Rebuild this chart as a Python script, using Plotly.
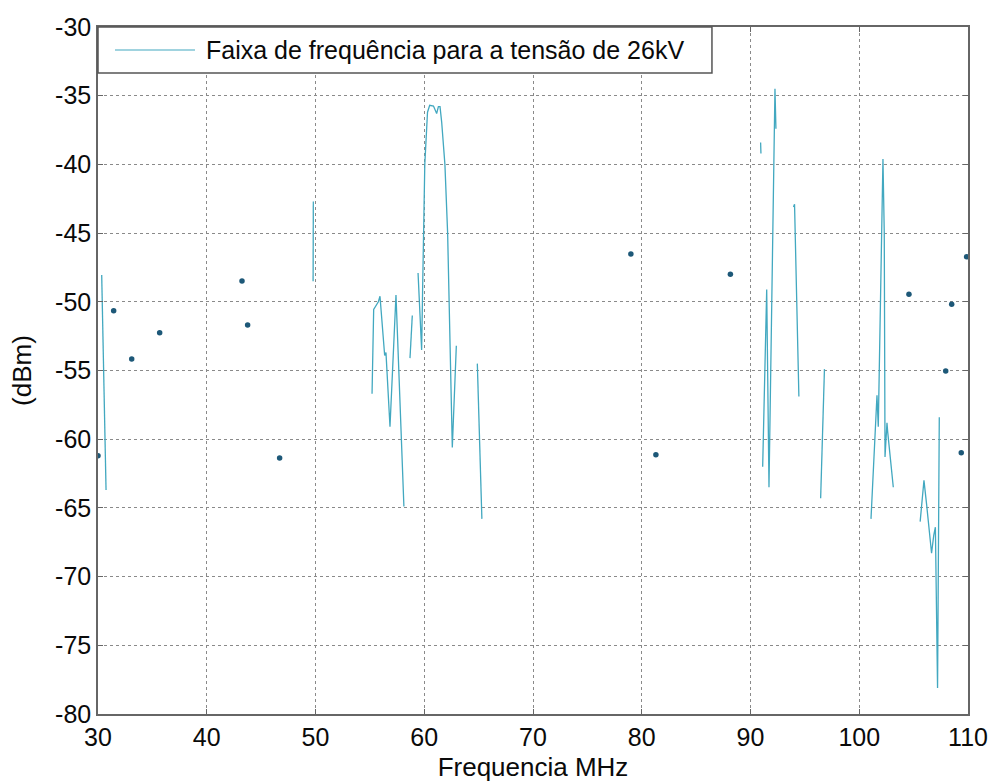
import plotly.graph_objects as go

# ---- data ----
# spectrum trace: segments separated by None (gaps)
freq_line = [
    30.34, 30.74, None,
    49.78, 49.80, None,
    55.20, 55.35, 55.78, 55.93, 56.36, 56.48, 56.85, 57.40, 58.13, None,
    58.69, 58.90, None,
    59.43, 59.76, 59.85, 59.95, 60.05, 60.30, 60.50, 60.85, 61.00, 61.14, 61.30, 61.45, 61.60, 61.90, 62.15, 62.58, 62.95, None,
    64.88, 65.30, None,
    90.93, 90.96, None,
    91.12, 91.49, 91.70, 92.25, 92.34, None,
    93.95, 94.05, 94.45, None,
    96.45, 96.80, None,
    101.08, 101.63, 101.75, 101.85, 102.18, 102.30, 102.37, 102.55, 102.62, 103.13, None,
    105.60, 105.95, 106.20, 106.45, 106.65, 106.85, 107.00, 107.20, 107.36,
]
dbm_line = [
    -48.05, -63.70, None,
    -48.50, -42.70, None,
    -56.70, -50.55, -50.00, -49.60, -53.90, -53.70, -59.10, -49.50, -64.90, None,
    -54.10, -51.00, None,
    -47.90, -53.50, -49.10, -45.00, -40.00, -36.20, -35.70, -35.75, -36.00, -36.30, -35.80, -35.80, -36.90, -40.00, -45.00, -60.60, -53.20, None,
    -54.50, -65.80, None,
    -38.40, -39.20, None,
    -62.00, -49.10, -63.50, -34.50, -37.40, None,
    -43.10, -42.90, -56.90, None,
    -64.30, -54.90, None,
    -65.80, -56.80, -59.10, -55.00, -39.60, -45.00, -61.30, -58.80, -59.50, -63.50, None,
    -66.00, -63.00, -64.80, -66.80, -68.30, -67.00, -66.40, -78.10, -58.40,
]

# isolated single samples (drawn as dots)
freq_pts = [30.0, 31.44, 33.1, 35.67, 43.24, 43.76, 46.7, 79.0, 81.3, 88.15,
            104.57, 107.95, 108.5, 109.38, 109.87]
dbm_pts = [-61.2, -50.65, -54.16, -52.25, -48.49, -51.69, -61.37, -46.52, -61.13, -48.0,
           -49.45, -55.04, -50.18, -60.98, -46.72]

x_ticks = [30, 40, 50, 60, 70, 80, 90, 100, 110]
y_ticks = [-30, -35, -40, -45, -50, -55, -60, -65, -70, -75, -80]

legend_label = "Faixa de frequência para a tensão de 26kV"
x_title = "Frequencia MHz"
y_title = "(dBm)"

LINE_COLOR = "#42a8c0"
DOT_COLOR = "#1d5878"
TEXT_COLOR = "#0a0a0a"
FONT = "Liberation Sans, Arial, sans-serif"

fig = go.Figure()
fig.add_trace(go.Scatter(
    x=freq_line, y=dbm_line, mode="lines", connectgaps=False,
    line=dict(color=LINE_COLOR, width=1.3), name=legend_label, showlegend=False,
))
fig.add_trace(go.Scatter(
    x=freq_pts, y=dbm_pts, mode="markers",
    marker=dict(color=DOT_COLOR, size=5.5), showlegend=False, name="",
))

axis_common = dict(
    showgrid=True, gridcolor="#8a8a8a", gridwidth=1, griddash="3px,3px",
    showline=True, linecolor="#666666", linewidth=1.5, mirror="ticks",
    ticks="inside", ticklen=5, tickcolor="#666666", automargin=False,
    zeroline=False, tickfont=dict(family=FONT, size=25, color=TEXT_COLOR),
)

fig.update_xaxes(range=[30, 110], tickvals=x_ticks, ticktext=[str(v) for v in x_ticks],
                 title=dict(text=x_title, font=dict(family=FONT, size=26, color=TEXT_COLOR), standoff=8),
                 **axis_common)
fig.update_yaxes(range=[-80, -30], tickvals=y_ticks, ticktext=[str(v) for v in y_ticks],
                 title=dict(text=y_title, font=dict(family=FONT, size=26, color=TEXT_COLOR), standoff=16),
                 **axis_common)

# legend box drawn in the upper-left corner of the axes
fig.add_shape(type="rect", xref="paper", yref="paper", x0=0, x1=0.7057, y0=0.933, y1=1.0,
              fillcolor="white", line=dict(color="#555555", width=1.5), layer="above")
fig.add_shape(type="line", xref="paper", yref="paper", x0=0.0195, x1=0.1115, y0=0.9665, y1=0.9665,
              line=dict(color=LINE_COLOR, width=1.2), layer="above")
fig.add_annotation(xref="paper", yref="paper", x=0.1218, y=0.9665, xanchor="left", yanchor="middle",
                   text=legend_label, showarrow=False, font=dict(family=FONT, size=25, color=TEXT_COLOR))

fig.update_layout(
    width=994, height=782,
    margin=dict(l=98, r=26, t=27, b=68),
    plot_bgcolor="white", paper_bgcolor="white",
    showlegend=False,
)

fig.write_html("out.html")
